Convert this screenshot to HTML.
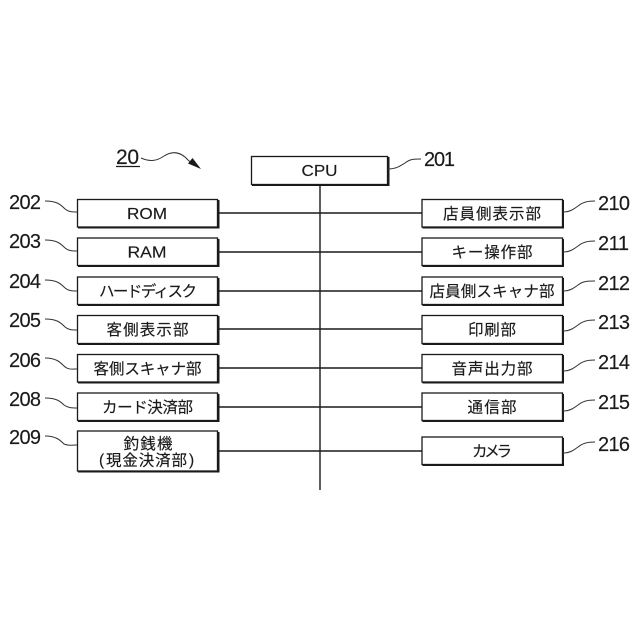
<!DOCTYPE html>
<html>
<head>
<meta charset="utf-8">
<style>
html,body{margin:0;padding:0;background:#fff}
svg{display:block}
text{font-family:"Liberation Sans","Noto Sans CJK JP",sans-serif;fill:#1a1a1a;stroke:#1a1a1a;stroke-width:.15}
.b{fill:#fff;stroke:#1a1a1a;stroke-width:1.3}
.s{fill:none;stroke:#1a1a1a;stroke-width:2}
.l{stroke:#1a1a1a;stroke-width:1.4;fill:none}
.q{stroke:#333;stroke-width:1;fill:none}
.n{font-size:20px}
.t{font-size:15.5px;text-anchor:middle}
.e{font-size:16px;text-anchor:middle}
</style>
</head>
<body>
<svg width="640" height="640" viewBox="0 0 640 640" xmlns="http://www.w3.org/2000/svg">
<path class="l" d="M320 185V490M218 213H422M218 252H422M218 291H422M218 329H422M218 368H422M218 407H422M218 451H422"/>

<g id="boxes">
<rect class="b" x="251.500" y="156.500" width="136" height="28"/><path class="s" d="M252 185H388.500V157"/>
<rect class="b" x="77.500" y="199.500" width="140" height="27.500"/><path class="s" d="M78 227.500H218.500V200"/>
<rect class="b" x="77.500" y="238" width="140" height="27.500"/><path class="s" d="M78 266H218.500V239"/>
<rect class="b" x="77.500" y="277" width="140" height="27.500"/><path class="s" d="M78 305H218.500V278"/>
<rect class="b" x="77.500" y="315.500" width="140" height="28"/><path class="s" d="M78 344H218.500V316"/>
<rect class="b" x="77.500" y="354.500" width="140" height="27.500"/><path class="s" d="M78 382.500H218.500V355"/>
<rect class="b" x="77.500" y="393" width="140" height="27.500"/><path class="s" d="M78 421H218.500V394"/>
<rect class="b" x="77.500" y="431" width="140" height="40"/><path class="s" d="M78 471.500H218.500V432"/>

<rect class="b" x="422" y="199.500" width="140.500" height="27.500"/><path class="s" d="M422.500 227.500H563V200"/>
<rect class="b" x="422" y="238" width="140.500" height="27.500"/><path class="s" d="M422.500 266H563V239"/>
<rect class="b" x="422" y="277" width="140.500" height="27.500"/><path class="s" d="M422.500 305H563V278"/>
<rect class="b" x="422" y="315.500" width="140.500" height="28"/><path class="s" d="M422.500 344H563V316"/>
<rect class="b" x="422" y="354.500" width="140.500" height="27.500"/><path class="s" d="M422.500 382.500H563V355"/>
<rect class="b" x="422" y="393" width="140.500" height="27.500"/><path class="s" d="M422.500 421H563V394"/>
<rect class="b" x="422" y="437" width="140.500" height="27.500"/><path class="s" d="M422.500 465H563V438"/>
</g>

<text class="e" x="319.500" y="176" textLength="36" lengthAdjust="spacingAndGlyphs">CPU</text>
<text class="e" x="147" y="219" textLength="40" lengthAdjust="spacingAndGlyphs">ROM</text>
<text class="e" x="147" y="257.500" textLength="39" lengthAdjust="spacingAndGlyphs">RAM</text>
<text class="t" x="148" y="296.500" textLength="98">ハードディスク</text>
<text class="t" x="147.500" y="335" textLength="82">客側表示部</text>
<text class="t" x="147.500" y="374" textLength="108">客側スキャナ部</text>
<text class="t" x="147.500" y="412.500" textLength="91">カード決済部</text>
<text class="t" x="148" y="449" textLength="49">釣銭機</text>
<text class="t" x="146.500" y="465.500" textLength="81">現金決済部</text>
<text x="99" y="465" style="font-size:15.500px">(</text>
<text x="189" y="465" style="font-size:15.500px">)</text>

<text class="t" x="492" y="219" textLength="98">店員側表示部</text>
<text class="t" x="492" y="257.500" textLength="81">キー操作部</text>
<text class="t" x="492" y="296.500" textLength="125">店員側スキャナ部</text>
<text class="t" x="492" y="335" textLength="48">印刷部</text>
<text class="t" x="492" y="374" textLength="81">音声出力部</text>
<text class="t" x="492" y="412.500" textLength="49">通信部</text>
<text class="t" x="492" y="456.500" textLength="40">カメラ</text>

<text class="n" x="9" y="209" textLength="32">202</text>
<text class="n" x="9" y="248" textLength="32">203</text>
<text class="n" x="9" y="288" textLength="32">204</text>
<text class="n" x="9" y="327" textLength="32">205</text>
<text class="n" x="9" y="367" textLength="32">206</text>
<text class="n" x="9" y="406" textLength="32">208</text>
<text class="n" x="9" y="444" textLength="32">209</text>

<text class="n" x="424" y="166" textLength="31">201</text>
<text class="n" x="598" y="210" textLength="32">210</text>
<text class="n" x="598" y="250" textLength="31">211</text>
<text class="n" x="598" y="290" textLength="32">212</text>
<text class="n" x="598" y="329" textLength="32">213</text>
<text class="n" x="598" y="369" textLength="32">214</text>
<text class="n" x="598" y="409" textLength="32">215</text>
<text class="n" x="598" y="451" textLength="32">216</text>

<text x="116" y="164" style="font-size:21px" textLength="23">20</text>
<path d="M116 166.500H140" stroke="#1a1a1a" stroke-width="1.2"/>

<path class="q" d="M45 201C56 201 60 204 64 208C68 212 72 212 77 212"/>
<path class="q" d="M45 240C56 240 60 243 64 247C68 251 72 251 77 251"/>
<path class="q" d="M45 280C56 280 60 283 64 287C68 291 72 291 77 291"/>
<path class="q" d="M45 319C56 319 60 322 64 326C68 330 72 330 77 330"/>
<path class="q" d="M45 358C56 358 60 362 64 366C68 370 72 369 77 369"/>
<path class="q" d="M45 398C56 398 60 401 64 405C68 408 72 408 77 408"/>
<path class="q" d="M45 436C56 436 60 440 64 444C68 446 72 445 77 445"/>

<path class="q" d="M388 169C396 169 400 166 405 163C410 159 414 159 421 159"/>
<path class="q" d="M563 212C570 212 574 209 578 206C583 202 588 201 595 201"/>
<path class="q" d="M563 252C570 252 574 249 578 246C583 242 588 241 595 241"/>
<path class="q" d="M563 291C570 291 574 288 578 285C583 281 588 281 595 281"/>
<path class="q" d="M563 331C570 331 574 328 578 325C583 321 588 320 595 320"/>
<path class="q" d="M563 371C570 371 574 368 578 365C583 361 588 360 595 360"/>
<path class="q" d="M563 411C570 411 574 408 578 405C583 401 588 400 595 400"/>
<path class="q" d="M563 453C570 453 574 450 578 447C583 443 588 442 595 442"/>

<path class="q" d="M141 158C150 162 157 161 164 156C172 151 180 151 188 160L194 165"/>
<path d="M201 169L188 163.500L192.500 158Z" fill="#1a1a1a"/>
</svg>
</body>
</html>
